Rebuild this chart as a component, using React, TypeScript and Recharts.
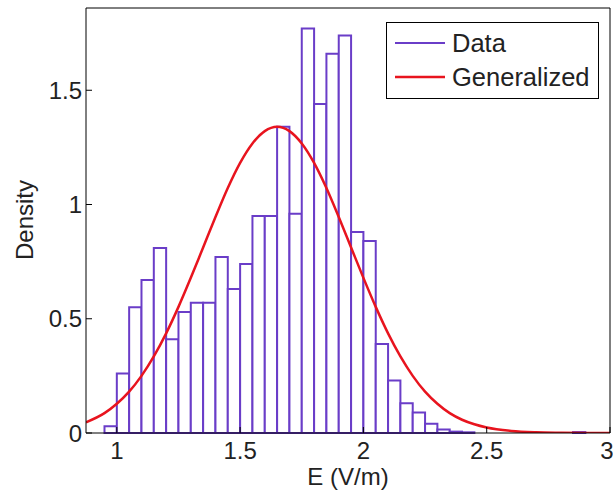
import React from 'react';
import {
  ComposedChart,
  Line,
  XAxis,
  YAxis,
  ReferenceArea,
  Legend,
} from 'recharts';

// histogram bins (left edge, width 0.05) and their densities
const binStarts = [
  0.95, 1.0, 1.05, 1.1, 1.15, 1.2, 1.25, 1.3, 1.35, 1.4, 1.45, 1.5, 1.55, 1.6,
  1.65, 1.7, 1.75, 1.8, 1.85, 1.9, 1.95, 2.0, 2.05, 2.1, 2.15, 2.2, 2.25, 2.3,
  2.35, 2.4, 2.85,
];
const binDensity = [
  0.03, 0.26, 0.55, 0.67, 0.81, 0.41, 0.53, 0.57, 0.57, 0.77, 0.63, 0.74, 0.95,
  0.95, 1.34, 0.96, 1.77, 1.44, 1.66, 1.74, 0.88, 0.84, 0.39, 0.23, 0.13, 0.09,
  0.04, 0.015, 0.006, 0.003, 0.004,
];
const binWidth = 0.05;

// fitted curve
const curveX = [
  0.875, 0.95, 1.0, 1.05, 1.1, 1.15, 1.2, 1.25, 1.3, 1.35, 1.4, 1.45, 1.5, 1.55,
  1.6, 1.65, 1.7, 1.75, 1.8, 1.85, 1.9, 1.95, 2.0, 2.05, 2.1, 2.15, 2.2, 2.25,
  2.3, 2.35, 2.4, 2.45, 2.5, 2.6, 2.7, 2.8, 2.9, 3.0,
];
const curveY = [
  0.047, 0.087, 0.128, 0.181, 0.25, 0.335, 0.436, 0.552, 0.679, 0.812, 0.945,
  1.072, 1.182, 1.267, 1.321, 1.34, 1.321, 1.267, 1.182, 1.072, 0.945, 0.812,
  0.679, 0.552, 0.436, 0.335, 0.25, 0.181, 0.128, 0.087, 0.058, 0.038, 0.024,
  0.009, 0.003, 0.001, 0.0, 0.0,
];

const xTicks = [1, 1.5, 2, 2.5, 3];
const yTicks = [0, 0.5, 1, 1.5];

const curve = curveX.map((x, i) => ({ x, y: curveY[i] }));

const FONT = '"Liberation Sans", Arial, Helvetica, sans-serif';
const PURPLE = '#6a3dc8';
const RED = '#e8141e';
const TEXT = '#222';

const LegendBox = () => (
  <svg width={213} height={77} style={{ display: 'block' }}>
    <rect x={0.5} y={0.5} width={212} height={76} fill="#fff" stroke="#000" />
    <line x1={9} y1={21} x2={59} y2={21} stroke={PURPLE} strokeWidth={2} />
    <text x={66} y={30} fontSize={25.5} fontFamily={FONT} fill={TEXT}>
      Data
    </text>
    <line x1={9} y1={55} x2={59} y2={55} stroke={RED} strokeWidth={2.5} />
    <text x={66} y={64} fontSize={25.5} fontFamily={FONT} fill={TEXT}>
      Generalized
    </text>
  </svg>
);

const App: React.FC = () => {
  const tickStyle = { fontSize: 24, fontFamily: FONT, fill: TEXT };
  return (
    <div style={{ position: 'absolute', left: 0, top: 0 }}>
      <ComposedChart
        width={613}
        height={493}
        data={curve}
        margin={{ top: 7, right: 0, bottom: 0, left: 0 }}
      >
        <XAxis
          dataKey="x"
          type="number"
          domain={[0.875, 3]}
          ticks={xTicks}
          allowDataOverflow
          height={60}
          tickSize={-6}
          tickMargin={15}
          stroke="#000"
          tick={tickStyle}
          tickFormatter={(v: number) => String(v)}
          label={{
            content: () => (
              <text
                x={348}
                y={485}
                textAnchor="middle"
                fontSize={24}
                fontFamily={FONT}
                fill={TEXT}
              >
                E (V/m)
              </text>
            ),
          }}
        />
        <XAxis
          xAxisId="top"
          orientation="top"
          dataKey="x"
          type="number"
          domain={[0.875, 3]}
          ticks={xTicks}
          allowDataOverflow
          height={1}
          tickSize={-6}
          tick={false}
          stroke="#000"
        />
        <YAxis
          type="number"
          domain={[0, 1.86]}
          ticks={yTicks}
          allowDataOverflow
          width={86}
          tickSize={-6}
          tickMargin={10}
          stroke="#000"
          tick={tickStyle}
          label={{
            content: () => (
              <text
                x={33}
                y={220}
                transform="rotate(-90 33 220)"
                textAnchor="middle"
                fontSize={24}
                fontFamily={FONT}
                fill={TEXT}
              >
                Density
              </text>
            ),
          }}
        />
        <YAxis
          yAxisId="right"
          orientation="right"
          type="number"
          domain={[0, 1.86]}
          ticks={yTicks}
          allowDataOverflow
          width={3}
          tickSize={-6}
          tick={false}
          stroke="#000"
        />
        {binStarts.map((x0, i) => (
          <ReferenceArea
            key={`bin-${i}`}
            x1={x0}
            x2={x0 + binWidth}
            y1={0}
            y2={binDensity[i]}
            fill="#fff"
            fillOpacity={1}
            stroke={PURPLE}
            strokeWidth={2}
            ifOverflow="visible"
          />
        ))}
        {/* invisible series so the top/right frame axes get drawn */}
        <Line
          xAxisId="top"
          yAxisId="right"
          dataKey="y"
          stroke="none"
          dot={false}
          activeDot={false}
          legendType="none"
          isAnimationActive={false}
        />
        <Line
          dataKey="y"
          type="monotone"
          stroke={RED}
          strokeWidth={2.5}
          dot={false}
          activeDot={false}
          isAnimationActive={false}
        />
        <Legend
          layout="vertical"
          align="center"
          verticalAlign="middle"
          wrapperStyle={{ top: 22, left: 386, width: 213 }}
          content={() => <LegendBox />}
        />
      </ComposedChart>
    </div>
  );
};

export default App;
